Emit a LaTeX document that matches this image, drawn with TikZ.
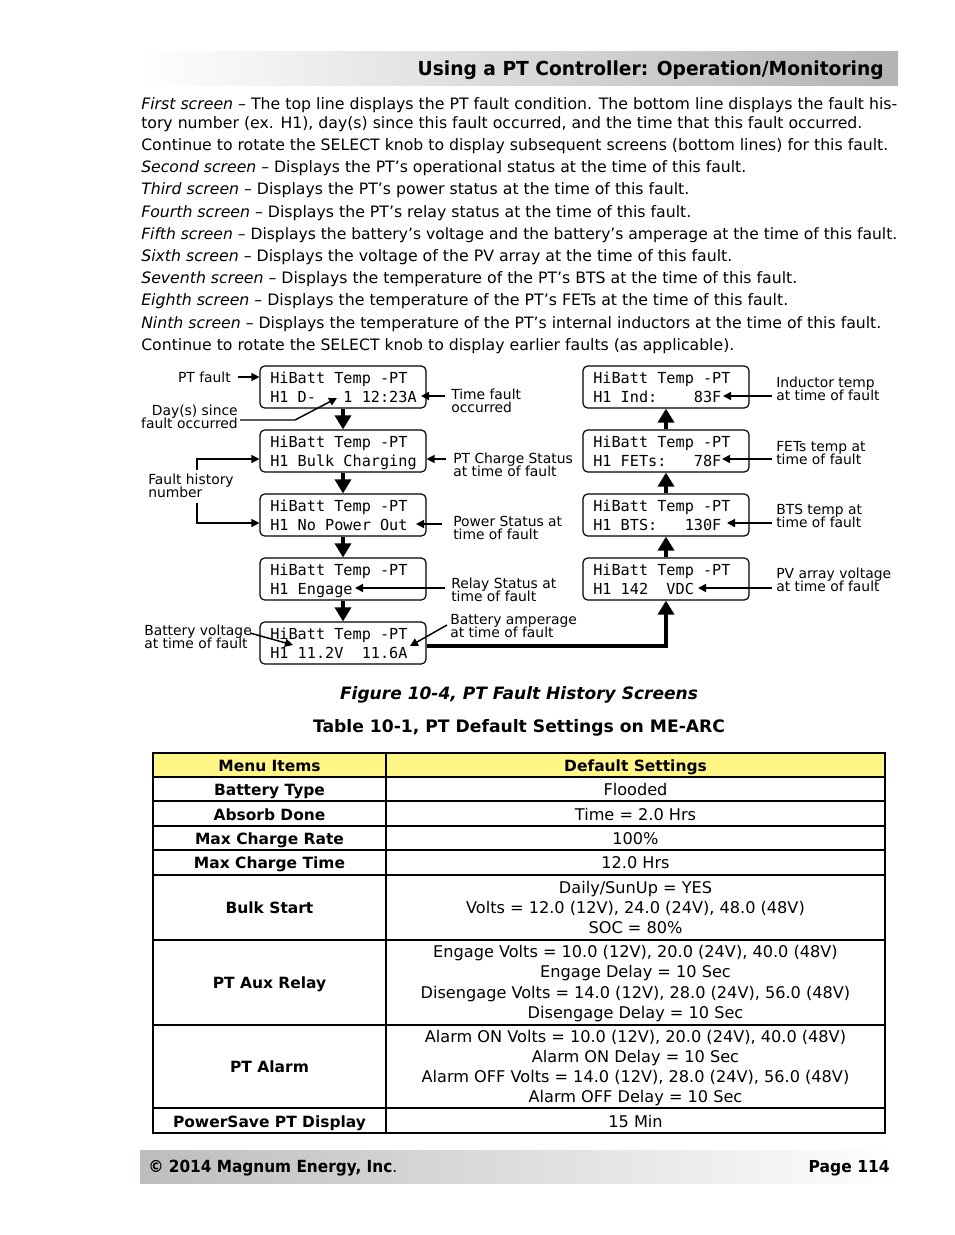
\documentclass[tikz,border=0pt]{standalone}
\usepackage{fontspec}
\setmainfont{DejaVu Sans}
\newfontfamily\lcdfont{DejaVu Sans Mono}
\usetikzlibrary{arrows.meta,calc}
\definecolor{hdrdark}{RGB}{180,178,180}
\definecolor{hdrmid}{RGB}{226,226,226}
\definecolor{ftrdark}{RGB}{190,188,190}
\definecolor{ftrmid}{RGB}{222,220,222}
\definecolor{tblyellow}{RGB}{255,246,133}
\newcommand\bodyline[4]{\node[bodytxt] (#1) at (141,#2) {\resizebox{#3pt}{!}{#4}};}
\newcommand\lcdbox[4]{%
  \node[lcd] (#1) at (#2+83,#3+21) {};
  \node[lcdtxt] (#1a) at (#2+10,#3+17) {HiBatt Temp -PT};
  \node[lcdtxt] (#1b) at (#2+10,#3+36) {#4};}
\newcommand\lbl[6]{%
  \node[lbltxt,anchor=base #2] (#1a) at (#3,#4) {#5};
  \node[lbltxt,anchor=base #2] (#1b) at (#3,#4+12.5) {#6};}
\begin{document}
\begin{tikzpicture}[x=0.75pt,y=-0.75pt,
  lcd/.style={draw, line width=0.9pt, rounded corners=3.5pt, minimum width=124.5pt, minimum height=31.5pt, inner sep=0pt},
  lcdtxt/.style={anchor=base west, inner sep=0pt, font=\lcdfont\fontsize{11.4}{13}\selectfont},
  lbltxt/.style={inner sep=0pt, font=\fontsize{10.4}{12}\selectfont},
  bodytxt/.style={anchor=base west, inner sep=0pt, font=\fontsize{11.7}{14}\selectfont},
  cellb/.style={anchor=base, inner sep=0pt, font=\bfseries\fontsize{11.6}{13}\selectfont},
  cellr/.style={anchor=base, inner sep=0pt, font=\fontsize{12.1}{14}\selectfont},
  bigarrow/.style={line width=3pt, -{Triangle[length=10.5pt, width=12pt]}},
  smallarrow/.style={line width=1.1pt, -{Triangle[length=6pt, width=6pt]}},
  thinrule/.style={line width=0.9pt},
  thickrule/.style={line width=1.5pt}]
\useasboundingbox (0,0) rectangle (954,1235);
\fill[white] (0,0) rectangle (954,1235);

% header band
\shade[left color=white, middle color=hdrmid, right color=hdrdark] (140,51) rectangle (898,85);
\node[anchor=base east, inner sep=0pt] (hdr) at (884,75) {\resizebox{349.5pt}{11pt}{\bfseries Using a PT Controller: Operation/Monitoring}};

% body text
\bodyline{b1}{109.5}{567}{\textit{First screen} – The top line displays the PT fault condition. The bottom line displays the fault his-}
\bodyline{b2}{128.5}{540.75}{tory number (ex. H1), day(s) since this fault occurred, and the time that this fault occurred.}
\bodyline{b3}{150.5}{560.25}{Continue to rotate the SELECT knob to display subsequent screens (bottom lines) for this fault.}
\bodyline{b4}{172.7}{453.75}{\textit{Second screen} – Displays the PT’s operational status at the time of this fault.}
\bodyline{b5}{194.9}{411}{\textit{Third screen} – Displays the PT’s power status at the time of this fault.}
\bodyline{b6}{217.1}{412.5}{\textit{Fourth screen} – Displays the PT’s relay status at the time of this fault.}
\bodyline{b7}{239.3}{567}{\textit{Fifth screen} – Displays the battery’s voltage and the battery’s amperage at the time of this fault.}
\bodyline{b8}{261.5}{443.25}{\textit{Sixth screen} – Displays the voltage of the PV array at the time of this fault.}
\bodyline{b9}{283.7}{492}{\textit{Seventh screen} – Displays the temperature of the PT’s BTS at the time of this fault.}
\bodyline{b10}{305.9}{485.25}{\textit{Eighth screen} – Displays the temperature of the PT’s FETs at the time of this fault.}
\bodyline{b11}{328.1}{555}{\textit{Ninth screen} – Displays the temperature of the PT’s internal inductors at the time of this fault.}
\bodyline{b12}{350.3}{444.75}{Continue to rotate the SELECT knob to display earlier faults (as applicable).}

% LCD screens
\lcdbox{L1}{260}{366}{H1 D-~~~1 12:23A}
\lcdbox{L2}{260}{430}{H1 Bulk Charging}
\lcdbox{L3}{260}{494}{H1 No Power Out}
\lcdbox{L4}{260}{558}{H1 Engage}
\lcdbox{L5}{260}{622}{H1 11.2V~~11.6A}
\lcdbox{R1}{583}{366}{H1 Ind:~~~~83F}
\lcdbox{R2}{583}{430}{H1 FETs:~~~78F}
\lcdbox{R3}{583}{494}{H1 BTS:~~~130F}
\lcdbox{R4}{583}{558}{H1 142~~VDC}

% flow arrows
\draw[bigarrow] (L1.south) -- (L2.north);
\draw[bigarrow] (L2.south) -- (L3.north);
\draw[bigarrow] (L3.south) -- (L4.north);
\draw[bigarrow] (L4.south) -- (L5.north);
\draw[bigarrow] ($(L5.east)+(0,3)$) -| (R4.south);
\draw[bigarrow] (R4.north) -- (R3.south);
\draw[bigarrow] (R3.north) -- (R2.south);
\draw[bigarrow] (R2.north) -- (R1.south);

% labels
\node[lbltxt,anchor=base east] (ptf) at (231,382) {PT fault};
\lbl{day}{east}{238}{415.5}{Day(s) since}{fault occurred}
\lbl{tim}{west}{451}{399.5}{Time fault}{occurred}
\lbl{fh}{west}{148}{484.5}{Fault history}{number}
\lbl{cs}{west}{453}{463.5}{PT Charge Status}{at time of fault}
\lbl{ps}{west}{453}{526.5}{Power Status at}{time of fault}
\lbl{rs}{west}{451}{588.5}{Relay Status at}{time of fault}
\lbl{ba}{west}{450}{624.5}{Battery amperage}{at time of fault}
\lbl{bv}{west}{144}{635.5}{Battery voltage}{at time of fault}
\lbl{ind}{west}{776}{387.5}{Inductor temp}{at time of fault}
\lbl{fet}{west}{776}{451.5}{FETs temp at}{time of fault}
\lbl{bts}{west}{776}{514.5}{BTS temp at}{time of fault}
\lbl{pv}{west}{776}{578.5}{PV array voltage}{at time of fault}

% label connector ends
\coordinate (ptfS) at (238,377);
\coordinate (timeS) at (445,396); \coordinate (timeT) at (421,396);
\coordinate (dayS) at (240,420); \coordinate (dayK) at (295,420); \coordinate (dayT) at (337,398);
\coordinate (fhS1) at (197,470); \coordinate (fhK1) at (197,459);
\coordinate (fhS2) at (197,503); \coordinate (fhK2) at (197,523);
\coordinate (csS) at (446,459);
\coordinate (psS) at (442,524); \coordinate (psT) at (416,524);
\coordinate (rsS) at (445,588); \coordinate (rsT) at (355,588);
\coordinate (baS) at (447,625); \coordinate (baT) at (410,646);
\coordinate (bvS) at (250,633); \coordinate (bvT) at (293,645);
\coordinate (indS) at (772,396); \coordinate (indT) at (723,396);
\coordinate (fetS) at (772,459); \coordinate (fetT) at (722,459);
\coordinate (btsS) at (772,523); \coordinate (btsT) at (727,523);
\coordinate (pvS) at (772,588); \coordinate (pvT) at (698,588);

\draw[smallarrow] (ptfS) -- (L1.west |- ptfS);
\draw[smallarrow] (timeS) -- (timeT);
\draw[smallarrow] (dayS) -- (dayK) -- (dayT);
\draw[smallarrow] (fhS1) -- (fhK1) -- (L2.west |- fhK1);
\draw[smallarrow] (fhS2) -- (fhK2) -- (L3.west |- fhK2);
\draw[smallarrow] (csS) -- (L2.east |- csS);
\draw[smallarrow] (psS) -- (psT);
\draw[smallarrow] (rsS) -- (rsT);
\draw[smallarrow] (baS) -- (baT);
\draw[smallarrow] (bvS) -- (bvT);
\draw[smallarrow] (indS) -- (indT);
\draw[smallarrow] (fetS) -- (fetT);
\draw[smallarrow] (btsS) -- (btsT);
\draw[smallarrow] (pvS) -- (pvT);

% captions
\node[anchor=base, inner sep=0pt] (figcap) at (519,699) {\resizebox{268.5pt}{!}{\bfseries\itshape\fontsize{12.8}{15}\selectfont Figure 10-4, PT Fault History Screens}};
\node[anchor=base, inner sep=0pt] (tblcap) at (519,732) {\resizebox{309pt}{!}{\bfseries\fontsize{12.8}{15}\selectfont Table 10-1, PT Default Settings on ME-ARC}};

% table
\fill[tblyellow] (153,753) rectangle (885,777);
\draw[thickrule] (153,777) -- (885,777);
\draw[thinrule] (153,801) -- (885,801);
\draw[thinrule] (153,826) -- (885,826);
\draw[thinrule] (153,850) -- (885,850);
\draw[thickrule] (153,875) -- (885,875);
\draw[thinrule] (153,940) -- (885,940);
\draw[thinrule] (153,1025) -- (885,1025);
\draw[thickrule] (153,1108) -- (885,1108);
\draw[thickrule] (386,753) -- (386,1133);
\draw[thickrule] (153,753) rectangle (885,1133);

\node[cellb] (h1) at (269.5,771) {Menu Items};
\node[cellb] (h2) at (635.5,771) {Default Settings};
\node[cellb] (m1) at (269.5,795) {Battery Type};
\node[cellb] (m2) at (269.5,820) {Absorb Done};
\node[cellb] (m3) at (269.5,844) {Max Charge Rate};
\node[cellb] (m4) at (269.5,868) {Max Charge Time};
\node[cellb] (m5) at (269.5,913) {Bulk Start};
\node[cellb] (m6) at (269.5,988) {PT Aux Relay};
\node[cellb] (m7) at (269.5,1072) {PT Alarm};
\node[cellb] (m8) at (269.5,1127) {PowerSave PT Display};

\node[cellr] (d1) at (635.5,795) {Flooded};
\node[cellr] (d2) at (635.5,820) {Time = 2.0 Hrs};
\node[cellr] (d3) at (635.5,844) {100\%};
\node[cellr] (d4) at (635.5,868) {12.0 Hrs};
\node[cellr] (d5a) at (635.5,893) {Daily/SunUp = YES};
\node[cellr] (d5b) at (635.5,913) {Volts = 12.0 (12V), 24.0 (24V), 48.0 (48V)};
\node[cellr] (d5c) at (635.5,933) {SOC = 80\%};
\node[cellr] (d6a) at (635.5,957.5) {Engage Volts = 10.0 (12V), 20.0 (24V), 40.0 (48V)};
\node[cellr] (d6b) at (635.5,977.5) {Engage Delay = 10 Sec};
\node[cellr] (d6c) at (635.5,998) {Disengage Volts = 14.0 (12V), 28.0 (24V), 56.0 (48V)};
\node[cellr] (d6d) at (635.5,1018) {Disengage Delay = 10 Sec};
\node[cellr] (d7a) at (635.5,1042) {Alarm ON Volts = 10.0 (12V), 20.0 (24V), 40.0 (48V)};
\node[cellr] (d7b) at (635.5,1062) {Alarm ON Delay = 10 Sec};
\node[cellr] (d7c) at (635.5,1082) {Alarm OFF Volts = 14.0 (12V), 28.0 (24V), 56.0 (48V)};
\node[cellr] (d7d) at (635.5,1102) {Alarm OFF Delay = 10 Sec};
\node[cellr] (d8) at (635.5,1127) {15 Min};

% footer band
\shade[left color=ftrdark, middle color=ftrmid, right color=white] (140,1150) rectangle (898,1183);
\node[anchor=base west, inner sep=0pt] (copy) at (148,1172) {\resizebox{186.75pt}{9.3pt}{\bfseries ©~2014 Magnum Energy, Inc\mdseries.}};
\node[anchor=base east, inner sep=0pt] (page) at (890,1172) {\resizebox{60.75pt}{9pt}{\bfseries Page 114}};
\end{tikzpicture}
\end{document}
